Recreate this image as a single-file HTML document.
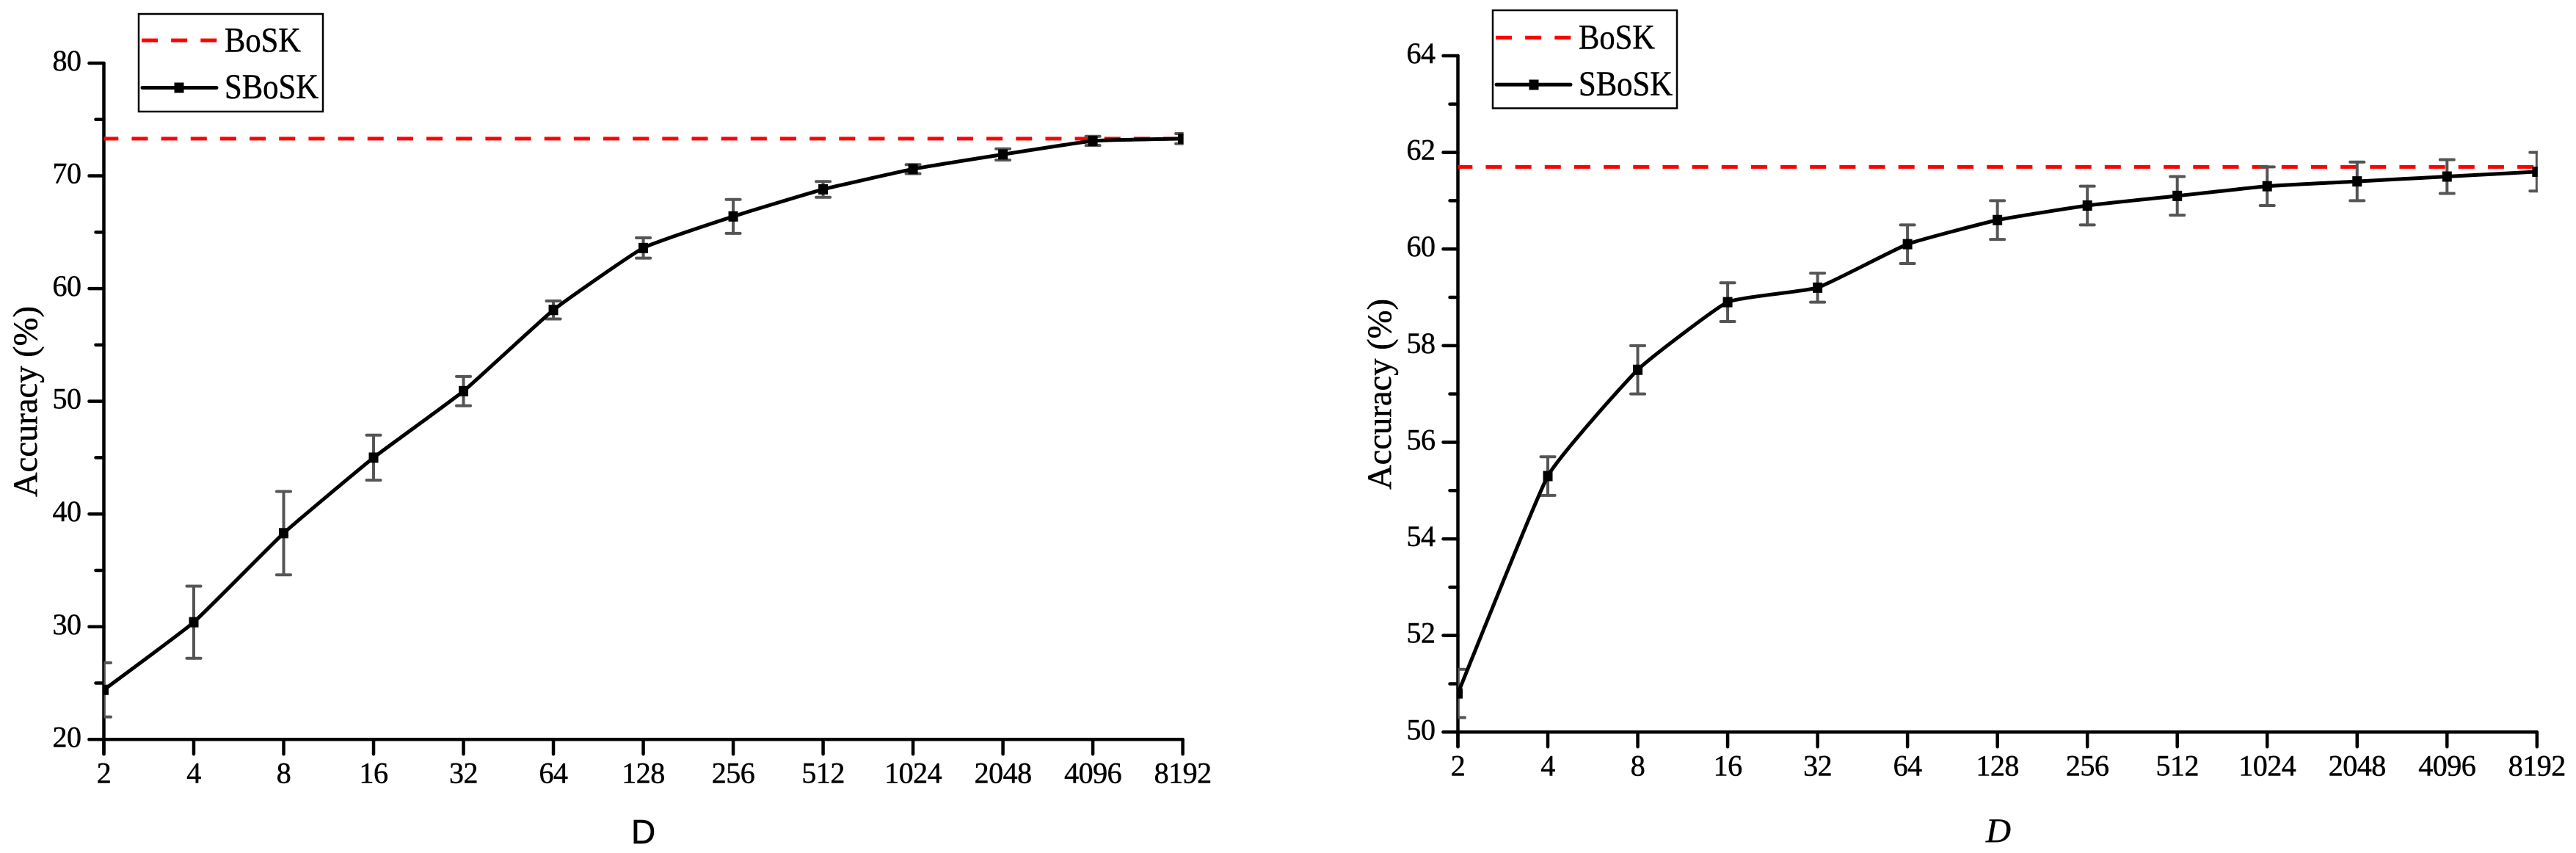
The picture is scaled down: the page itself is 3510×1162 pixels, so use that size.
<!DOCTYPE html>
<html lang="en">
<head>
<meta charset="utf-8">
<title>Accuracy vs D: BoSK and SBoSK</title>
<style>
  html, body { margin: 0; padding: 0; background: #fff; }
  #figure { display: block; width: 3510px; height: 1162px; }
  text { fill: #000; font-family: "Liberation Serif", serif; stroke: #000; stroke-width: 0.5px; }
  .tick-label { font-size: 40px; letter-spacing: -0.5px; }
  .legend-label { font-size: 48px; }
  .axis-title { font-size: 47px; }
</style>
</head>
<body>
<svg id="figure" xmlns="http://www.w3.org/2000/svg" width="3510" height="1162" viewBox="0 0 3510 1162">
  <rect x="0" y="0" width="3510" height="1162" fill="#fff"/>

  <g id="chart-left"></g>
  <g id="chart-right"></g>

  <text class="axis-title" transform="translate(50 677) rotate(-90)" textLength="260" lengthAdjust="spacingAndGlyphs">Accuracy (%)</text>
  <text x="860" y="1149" style="font-family:'Liberation Sans',sans-serif;font-size:46px">D</text>

  <text class="axis-title" transform="translate(1895 667) rotate(-90)" textLength="260" lengthAdjust="spacingAndGlyphs">Accuracy (%)</text>
  <text x="2706" y="1147" style="font-style:italic;font-size:47px">D</text>

  <g>
    <rect x="189" y="19" width="251" height="133" fill="#fff" stroke="#000" stroke-width="2.5"/>
    <line x1="193" y1="55" x2="295.5" y2="55" stroke="#f00" stroke-width="5" stroke-dasharray="22 18.16"/>
    <text class="legend-label" x="306" y="70.500" textLength="104" lengthAdjust="spacingAndGlyphs">BoSK</text>
    <line x1="194" y1="119.500" x2="295" y2="119.500" stroke="#000" stroke-width="5" stroke-linecap="round"/>
    <rect x="237.500" y="112.500" width="13" height="14" fill="#000"/>
    <text class="legend-label" x="306" y="134" textLength="128" lengthAdjust="spacingAndGlyphs">SBoSK</text>
  </g>

  <g>
    <rect x="2034" y="14" width="251" height="133.500" fill="#fff" stroke="#000" stroke-width="2.5"/>
    <line x1="2038" y1="51.300" x2="2140.500" y2="51.300" stroke="#f00" stroke-width="5" stroke-dasharray="22 18.16"/>
    <text class="legend-label" x="2151" y="66.500" textLength="104" lengthAdjust="spacingAndGlyphs">BoSK</text>
    <line x1="2039" y1="115.300" x2="2140" y2="115.300" stroke="#000" stroke-width="5" stroke-linecap="round"/>
    <rect x="2083.500" y="108.500" width="13" height="14" fill="#000"/>
    <text class="legend-label" x="2151" y="130" textLength="128" lengthAdjust="spacingAndGlyphs">SBoSK</text>
  </g>
</svg>

<script>
const dimensions = [2, 4, 8, 16, 32, 64, 128, 256, 512, 1024, 2048, 4096, 8192];

const leftMeans = [24.4, 30.4, 38.3, 45.0, 50.9, 58.1, 63.6, 66.4, 68.8, 70.6, 71.9, 73.1, 73.3];
const leftErrors = [2.4, 3.2, 3.7, 2.0, 1.3, 0.8, 0.9, 1.5, 0.7, 0.4, 0.5, 0.4, 0.45];
const leftBaseline = 73.3;
const leftMajorTicks = [20, 30, 40, 50, 60, 70, 80];
const leftMinorTicks = [25, 35, 45, 55, 65, 75];

const rightMeans = [50.8, 55.3, 57.5, 58.9, 59.2, 60.1, 60.6, 60.9, 61.1, 61.3, 61.4, 61.5, 61.6];
const rightErrors = [0.5, 0.4, 0.5, 0.4, 0.3, 0.4, 0.4, 0.4, 0.4, 0.4, 0.4, 0.35, 0.4];
const rightBaseline = 61.7;
const rightMajorTicks = [50, 52, 54, 56, 58, 60, 62, 64];
const rightMinorTicks = [51, 53, 55, 57, 59, 61, 63];

const SVG_NS = 'http://www.w3.org/2000/svg';

function addMark(parent, tag, attrs, name) {
  const el = document.createElementNS(SVG_NS, tag);
  for (const key in attrs) el.setAttribute(key, attrs[key]);
  
  
  parent.appendChild(el);
  return el;
}

function smoothPath(points) {
  const soft = 16;
  let d = 'M' + points[0][0] + ' ' + points[0][1];
  for (let i = 0; i < points.length - 1; i++) {
    const p0 = points[Math.max(i - 1, 0)];
    const p1 = points[i];
    const p2 = points[i + 1];
    const p3 = points[Math.min(i + 2, points.length - 1)];
    const c1x = p1[0] + (p2[0] - p0[0]) / soft;
    const c1y = p1[1] + (p2[1] - p0[1]) / soft;
    const c2x = p2[0] - (p3[0] - p1[0]) / soft;
    const c2y = p2[1] - (p3[1] - p1[1]) / soft;
    d += ' C' + c1x + ' ' + c1y + ' ' + c2x + ' ' + c2y + ' ' + p2[0] + ' ' + p2[1];
  }
  return d;
}

function drawChart(groupId, prefix, frame, means, errors, baseline, majorTicks, minorTicks) {
  const g = document.getElementById(groupId);
  const yMin = majorTicks[0];
  const yMax = majorTicks[majorTicks.length - 1];
  const logMin = Math.log2(dimensions[0]);
  const logMax = Math.log2(dimensions[dimensions.length - 1]);

  const xScale = function (d) {
    return frame.x0 + (Math.log2(d) - logMin) / (logMax - logMin) * (frame.x1 - frame.x0);
  };
  const yScale = function (v) {
    return frame.y0 - (v - yMin) / (yMax - yMin) * (frame.y0 - frame.y1);
  };

  const axisStyle = { stroke: '#000', 'stroke-width': 4.5, 'stroke-linecap': 'round' };
  const withLine = function (x1, y1, x2, y2) {
    return Object.assign({ x1: x1, y1: y1, x2: x2, y2: y2 }, axisStyle);
  };

  addMark(g, 'line', withLine(frame.x0, frame.y1, frame.x0, frame.y0 + 20), prefix + '-y-axis-line');
  addMark(g, 'line', withLine(frame.x0 - 20, frame.y0, frame.x1, frame.y0), prefix + '-x-axis-line');

  majorTicks.forEach(function (v) {
    const y = yScale(v);
    addMark(g, 'line', withLine(frame.x0 - 20, y, frame.x0, y), prefix + '-y-tick-' + v);
    const label = addMark(g, 'text', { x: frame.x0 - 31, y: y + 10, 'text-anchor': 'end', class: 'tick-label' }, prefix + '-y-tick-label-' + v);
    label.textContent = String(v);
  });

  minorTicks.forEach(function (v) {
    const y = yScale(v);
    addMark(g, 'line', withLine(frame.x0 - 11, y, frame.x0, y), prefix + '-y-minor-tick-' + v);
  });

  dimensions.forEach(function (d) {
    const x = xScale(d);
    addMark(g, 'line', withLine(x, frame.y0, x, frame.y0 + 20), prefix + '-x-tick-' + d);
    const label = addMark(g, 'text', { x: x, y: frame.y0 + 59, 'text-anchor': 'middle', class: 'tick-label' }, prefix + '-x-tick-label-' + d);
    label.textContent = String(d);
  });

  const clipId = prefix + '-plot-clip';
  const defs = addMark(g, 'defs', {}, prefix + '-plot-defs');
  const clip = addMark(defs, 'clipPath', { id: clipId }, prefix + '-plot-clip-path');
  addMark(clip, 'rect', { x: frame.x0, y: 0, width: frame.x1 - frame.x0 + 1, height: 1162 }, prefix + '-plot-clip-rect');

  const plot = addMark(g, 'g', { 'clip-path': 'url(#' + clipId + ')' }, prefix + '-plot-area');

  addMark(plot, 'line', {
    x1: frame.x0 - 2.2, y1: yScale(baseline), x2: frame.x1, y2: yScale(baseline),
    stroke: '#f00', 'stroke-width': 5, 'stroke-dasharray': '22 18.16'
  }, prefix + '-bosk-line');

  dimensions.forEach(function (d, i) {
    const x = xScale(d);
    const top = yScale(means[i] + errors[i]);
    const bottom = yScale(means[i] - errors[i]);
    const barStyle = { stroke: '#555', 'stroke-width': 4, 'stroke-linecap': 'round' };
    addMark(plot, 'line', Object.assign({ x1: x, y1: top, x2: x, y2: bottom }, barStyle), prefix + '-error-bar-' + d);
    addMark(plot, 'line', Object.assign({ x1: x - 9.500, y1: top, x2: x + 9.500, y2: top }, barStyle), prefix + '-error-cap-top-' + d);
    addMark(plot, 'line', Object.assign({ x1: x - 9.500, y1: bottom, x2: x + 9.500, y2: bottom }, barStyle), prefix + '-error-cap-bottom-' + d);
  });

  const points = dimensions.map(function (d, i) {
    return [xScale(d), yScale(means[i])];
  });
  addMark(plot, 'path', {
    d: smoothPath(points), fill: 'none', stroke: '#000', 'stroke-width': 5, 'stroke-linejoin': 'round'
  }, prefix + '-sbosk-line');

  points.forEach(function (p, i) {
    addMark(plot, 'rect', { x: p[0] - 6.500, y: p[1] - 7, width: 13, height: 14, fill: '#000' }, prefix + '-sbosk-point-' + dimensions[i]);
  });
}

drawChart('chart-left', 'left', { x0: 141.5, x1: 1611.6, y0: 1007.3, y1: 86 },
  leftMeans, leftErrors, leftBaseline, leftMajorTicks, leftMinorTicks);
drawChart('chart-right', 'right', { x0: 1986.5, x1: 3456.8, y0: 997.3, y1: 76 },
  rightMeans, rightErrors, rightBaseline, rightMajorTicks, rightMinorTicks);
</script>
</body>
</html>
